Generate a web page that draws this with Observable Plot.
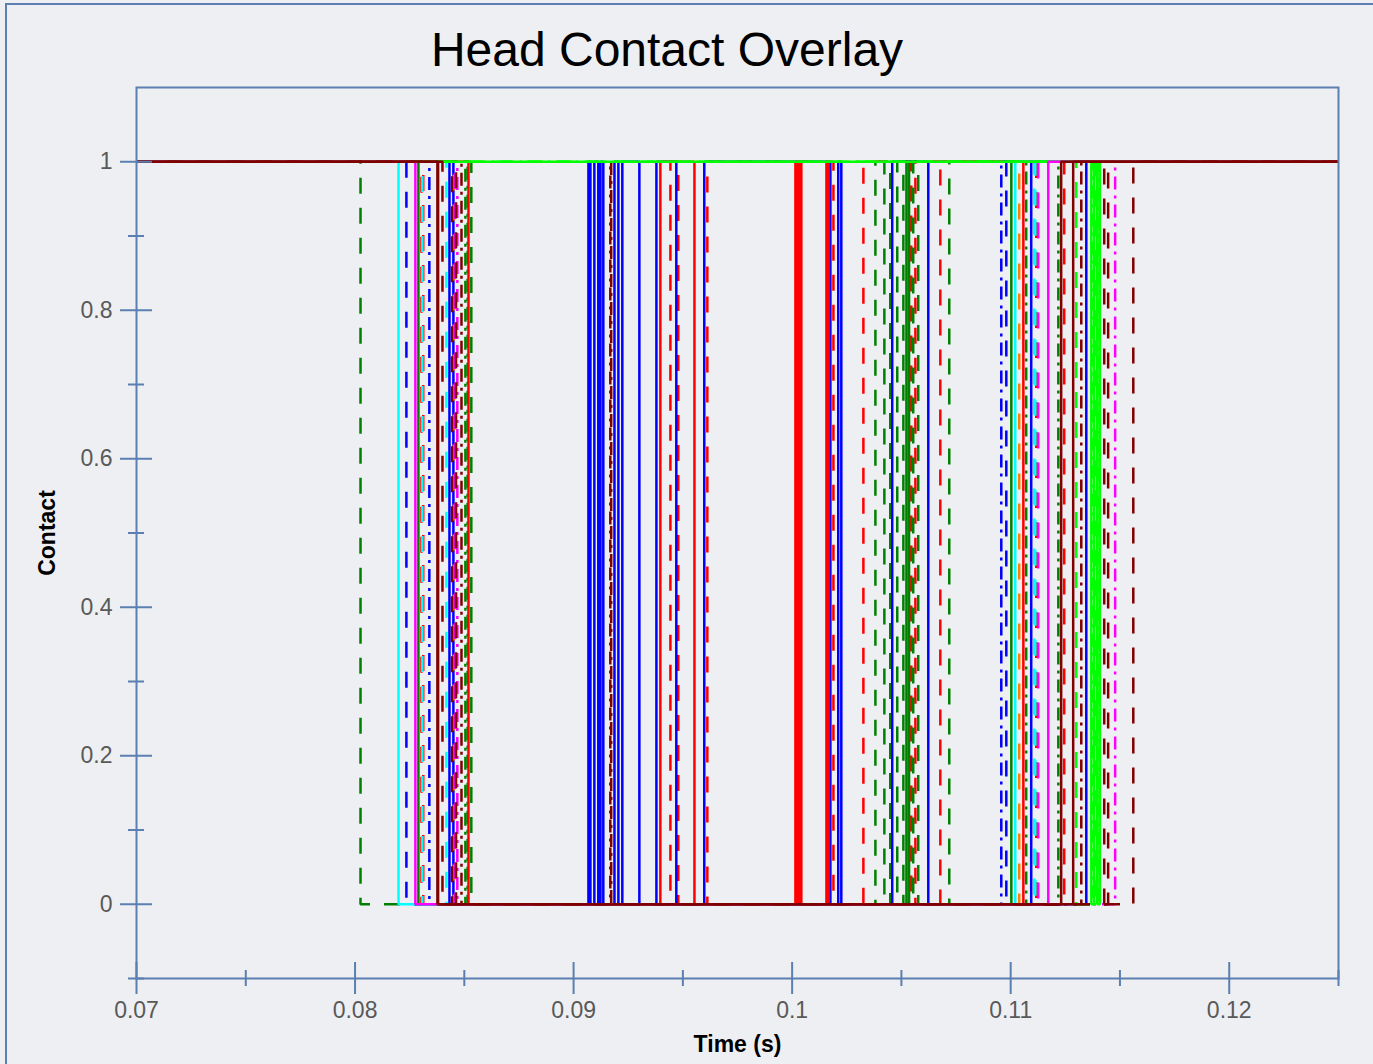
<!DOCTYPE html>
<html><head><meta charset="utf-8">
<script src="https://cdn.jsdelivr.net/npm/d3@7"></script>
<script src="https://cdn.jsdelivr.net/npm/@observablehq/plot@0.6"></script>
<style>
html,body{margin:0;padding:0;background:#eeeff2;overflow:hidden;}
#wrap{position:relative;width:1373px;height:1064px;font-family:"Liberation Sans",Arial,sans-serif;}
#outer{position:absolute;left:5px;top:3px;width:1420px;height:1120px;border-left:2px solid #5a7fb0;border-top:2px solid #5a7fb0;}
#chart{position:absolute;left:0;top:0;}
#title{position:absolute;left:0;width:1334px;top:26px;text-align:center;font-size:48px;line-height:48px;color:#000;}
</style></head><body>
<div id="wrap"><div id="outer"></div><div id="chart"></div><div id="title">Head Contact Overlay</div></div>
<script>
// ---- data ----
const chartTitle = "Head Contact Overlay";
const xLabel = "Time (s)";
const yLabel = "Contact";
const xDomain = [0.07, 0.125];
const yDomain = [-0.1, 1.1];
const xMajorTicks = [0.07, 0.08, 0.09, 0.1, 0.11, 0.12];
const xMinorTicks = [0.075, 0.085, 0.095, 0.105, 0.115, 0.125];
const yMajorTicks = [0, 0.2, 0.4, 0.6, 0.8, 1];
const yMinorTicks = [-0.1, 0.1, 0.3, 0.5, 0.7, 0.9];

// series in drawing order; each starts in contact (1) and toggles at the listed times
const seriesNames = ["S01","S02","S03","S04","S05","S06","S07","S08","S09","S10","S11","S12","S13","S14",
  "S15","S16","S17","S18","S19","S20","S21","S22","S23","S24","S25","S26","S27","S28"];
const seriesColors = ["#008000","#ff0000","#ff0000","#008000","#0000ff","#0000ff","#008000","#0000ff","#0000ff","#ff8000",
  "#00ffff","#00ffff","#ff00ff","#008000","#008000","#ff0000","#ff00ff","#800000","#800000","#800000",
  "#00ffff","#00ff00","#00ff00","#00ff00","#ff00ff","#800000","#800000","#800000"];
const seriesStyles = ["dashed","dashed","dashed","dashed","dashed","dashdot","solid","solid","solid","dashed",
  "dashed","dashed","dashed","dashdot","dashdot","solid","dashdot","dashdot","dashed","dashed",
  "solid","dashed","dashdot","solid","solid","solid","solid","dashed"];
const seriesToggles = [
  [0.08025, 0.10381],
  [0.08304, 0.09443, 0.09479, 0.09612, 0.10189, 0.10326],
  [0.08312, 0.10545, 0.10564, 0.10678, 0.11117, 0.11245],
  [0.08532, 0.10422, 0.10449, 0.10481, 0.10509, 0.10554, 0.10577, 0.10719],
  [0.08235, 0.1098],
  [0.0834, 0.10957],
  [0.0829, 0.10523, 0.10535, 0.11003],
  [0.08432, 0.09068, 0.09077, 0.09095, 0.09113, 0.09123, 0.09136, 0.09187, 0.09205, 0.09223,
   0.09301, 0.09379, 0.0947, 0.09598, 0.10175, 0.10211, 0.10225, 0.10458, 0.10623, 0.11094],
  [0.0845, 0.11346],
  [0.08452, 0.11039],
  [0.08308, 0.11108],
  [0.08418, 0.11113],
  [0.08458, 0.11126],
  [0.08505, 0.11071],
  [0.08515, 0.11218],
  [0.08519, 0.09397, 0.09553, 0.10015, 0.10024, 0.10033, 0.10042, 0.10157, 0.10166, 0.11058],
  [0.08468, 0.11478],
  [0.08487, 0.09168, 0.09172, 0.11323],
  [0.08444, 0.11428],
  [0.08462, 0.11446],
  [0.08199, 0.11021],
  [0.113, 0.1139],
  [0.11375, 0.11402],
  [0.11369, 0.11382, 0.11396, 0.11408],
  [0.08276, 0.11172],
  [0.0838, 0.11286],
  [0.08377, 0.11231],
  [0.084, 0.11561]
];

// ---- styling ----
const axisColor = "#5a7fb0";
const textColor = "#595959";
const dashes = {solid: null, dashed: "16,14", dashdot: "13,6,3,6"};
const W = 1373, H = 1064, mL = 136, mR = 35, mT = 87, mB = 86;
const pxPerX = (W - mL - mR) / (xDomain[1] - xDomain[0]);
const pxPerY = (H - mT - mB) / (yDomain[1] - yDomain[0]);
const fmt = d => String(+d.toFixed(4));

const rows = [];
seriesNames.forEach((name, i) => {
  let v = 1;
  rows.push({series: name, t: xDomain[0], v});
  for (const t of seriesToggles[i]) { v = 1 - v; rows.push({series: name, t, v}); }
  rows.push({series: name, t: xDomain[1], v});
});

const lineMarks = seriesNames.map((name, i) => Plot.line(rows.filter(r => r.series === name), {
  x: "t", y: "v", curve: "step-after",
  stroke: seriesColors[i], strokeWidth: 2.5,
  strokeDasharray: dashes[seriesStyles[i]] || undefined,
  strokeLinecap: "butt", strokeLinejoin: "miter"
}));

function xTickRules(ticks, half) {
  const d = half / pxPerY;
  return Plot.ruleX(ticks, {x: t => t, y1: () => yDomain[0] - d, y2: () => yDomain[0] + d, stroke: axisColor, strokeWidth: 2});
}
function yTickRules(ticks, half) {
  const d = half / pxPerX;
  return Plot.ruleY(ticks, {y: t => t, x1: () => xDomain[0] - d, x2: () => xDomain[0] + d, stroke: axisColor, strokeWidth: 2});
}

const chart = Plot.plot({
  width: W, height: H,
  marginLeft: mL, marginRight: mR, marginTop: mT, marginBottom: mB,
  style: {background: "transparent", fontFamily: "'Liberation Sans', Arial, sans-serif", fontSize: "23px", color: textColor, overflow: "visible"},
  x: {domain: xDomain, ticks: xMajorTicks, tickSize: 0, tickPadding: 23, tickFormat: fmt, label: null},
  y: {domain: yDomain, ticks: yMajorTicks, tickSize: 0, tickPadding: 24, tickFormat: fmt, label: null},
  marks: [
    ...lineMarks,
    Plot.frame({stroke: axisColor, strokeWidth: 2}),
    xTickRules(xMajorTicks, 16),
    xTickRules(xMinorTicks, 8),
    yTickRules(yMajorTicks, 16),
    yTickRules(yMinorTicks, 8),
    Plot.text([xLabel], {frameAnchor: "bottom", dy: 66, text: d => d, fontSize: 23, fontWeight: "bold", fill: "#000", textAnchor: "middle", lineAnchor: "middle"}),
    Plot.text([yLabel], {frameAnchor: "left", dx: -89, rotate: -90, text: d => d, fontSize: 23, fontWeight: "bold", fill: "#000", textAnchor: "middle", lineAnchor: "middle"})
  ]
});
document.getElementById("chart").appendChild(chart);
document.getElementById("title").textContent = chartTitle;
</script></body></html>
